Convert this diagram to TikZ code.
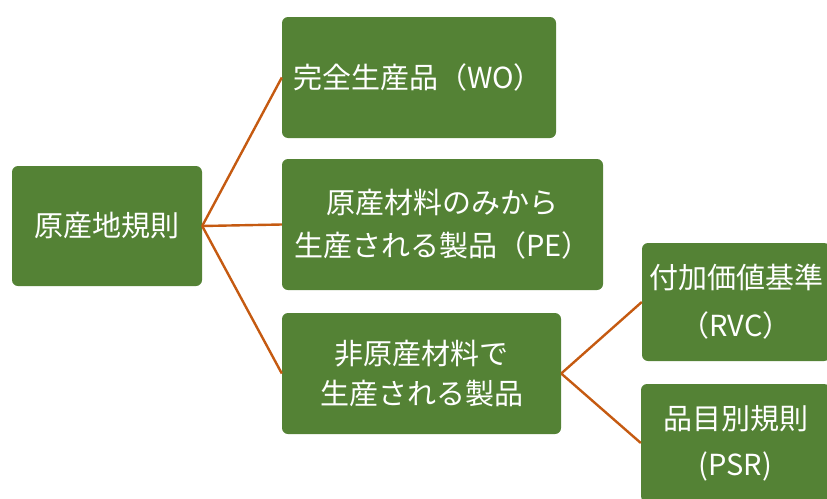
\documentclass[tikz,border=0pt]{standalone}
\usepackage{fontspec}
\newfontfamily\jpfont{Noto Sans CJK JP}
\definecolor{boxgreen}{RGB}{84,130,53}
\definecolor{lineorange}{RGB}{197,90,17}
\begin{document}
\begin{tikzpicture}[x=1pt,y=-1pt,
  gbox/.style={rectangle, rounded corners=6pt, fill=boxgreen, text=white, align=center,
    font=\jpfont\fontsize{29}{43}\selectfont, inner sep=0pt},
  conn/.style={draw=lineorange, line width=2.4pt}]
\useasboundingbox (0,0) rectangle (827,498);
\node[gbox, minimum width=190pt, minimum height=120pt] (root) at (107,226) {原産地規則};
\node[gbox, minimum width=274pt, minimum height=121pt, text width=252pt, align=left] (wo) at (419,77.5) {完全生産品（WO）};
\node[gbox, minimum width=321pt, minimum height=131pt] (pe) at (442.5,224.5) {原産材料のみから\\生産される製品（PE）};
\node[gbox, minimum width=279pt, minimum height=121pt, font=\jpfont\fontsize{29}{40}\selectfont] (no) at (421.5,373.5) {非原産材料で\\生産される製品};
\node[gbox, minimum width=188pt, minimum height=118pt, font=\jpfont\fontsize{29}{48}\selectfont] (rvc) at (736,302) {付加価値基準\\（RVC）};
\node[gbox, minimum width=189pt, minimum height=118pt, font=\jpfont\fontsize{29}{46}\selectfont] (psr) at (735.5,443) {品目別規則\\(PSR)};
\draw[conn] (root.east) -- (wo.west);
\draw[conn] (root.east) -- (pe.west);
\draw[conn] (root.east) -- (no.west);
\draw[conn] (no.east) -- (rvc.west);
\draw[conn] (no.east) -- (psr.west);
\end{tikzpicture}
\end{document}
